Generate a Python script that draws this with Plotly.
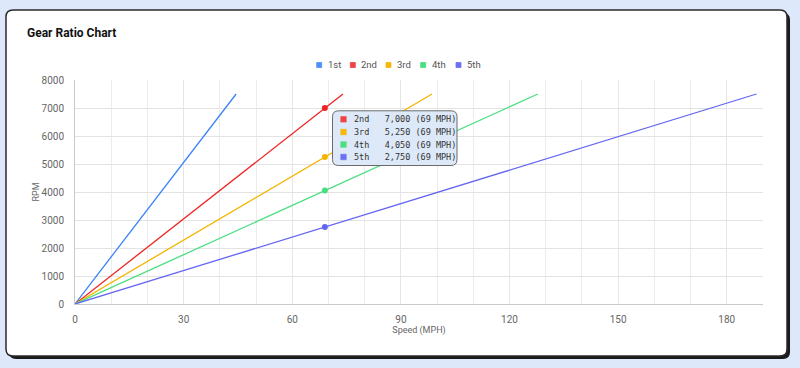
import plotly.graph_objects as go

# ---------------- data ----------------
gears = ["1st", "2nd", "3rd", "4th", "5th"]
line_colors = ["#3b82f6", "#ee2424", "#f4b400", "#4ade80", "#6366f1"]
swatch_colors = ["#4f8ef7", "#ef4444", "#f5b70a", "#4ade80", "#6d70f3"]
redline_rpm = 7500
top_speed = [44.5, 74.0, 98.6, 127.8, 188.2]   # mph reached at redline per gear
hover_speed = 69
hover_gears = ["2nd", "3rd", "4th", "5th"]
hover_rpm = [7000, 5250, 4050, 2750]
x_ticks = [0, 30, 60, 90, 120, 150, 180]
y_ticks = [0, 1000, 2000, 3000, 4000, 5000, 6000, 7000, 8000]

# ---------------- geometry helpers ----------------
W, H = 800, 368
PL, PR, PT, PB = 75, 763, 80, 304  # plot area in px
SANS = "Roboto, Inter, sans-serif"


def px(x):
    return (x - PL) / (PR - PL)


def py(y):
    return (PB - y) / (PB - PT)


def rr_path(x0, y0, x1, y1, r):
    pts = [
        f"M{px(x0 + r)},{py(y0)}", f"L{px(x1 - r)},{py(y0)}",
        f"Q{px(x1)},{py(y0)} {px(x1)},{py(y0 + r)}", f"L{px(x1)},{py(y1 - r)}",
        f"Q{px(x1)},{py(y1)} {px(x1 - r)},{py(y1)}", f"L{px(x0 + r)},{py(y1)}",
        f"Q{px(x0)},{py(y1)} {px(x0)},{py(y1 - r)}", f"L{px(x0)},{py(y0 + r)}",
        f"Q{px(x0)},{py(y0)} {px(x0 + r)},{py(y0)}", "Z",
    ]
    return " ".join(pts)


fig = go.Figure()

for g, c, ts in zip(gears, line_colors, top_speed):
    fig.add_trace(go.Scatter(x=[0, ts], y=[0, redline_rpm], mode="lines", name=g,
                             line=dict(color=c, width=1.3), showlegend=False,
                             hoverinfo="skip"))

hover_cols = [line_colors[gears.index(g)] for g in hover_gears]
fig.add_trace(go.Scatter(x=[hover_speed] * len(hover_rpm), y=hover_rpm, mode="markers",
                         marker=dict(color=hover_cols, size=6), showlegend=False,
                         hoverinfo="skip"))

shapes = []
annotations = []

# card shadow + card
shapes.append(dict(type="path", xref="paper", yref="paper", layer="below",
                   path=rr_path(9, 13, 790, 359, 7), fillcolor="#1a1a1a",
                   line=dict(width=0)))
shapes.append(dict(type="path", xref="paper", yref="paper", layer="below",
                   path=rr_path(6, 10, 787, 356, 7), fillcolor="white",
                   line=dict(color="#2a2a2a", width=1.5)))

# title
annotations.append(dict(text="<b>Gear Ratio Chart</b>", xref="paper", yref="paper",
                        x=px(25), y=py(33), xanchor="left", yanchor="middle",
                        showarrow=False, font=dict(size=12, color="#111", family=SANS)))

# legend (custom)
leg_sq_x = [316.7, 350.3, 386.0, 420.7, 456.0]
for g, c, sx in zip(gears, swatch_colors, leg_sq_x):
    shapes.append(dict(type="rect", xref="paper", yref="paper",
                       x0=px(sx), x1=px(sx + 5), y0=py(62.5), y1=py(67.5),
                       fillcolor=c, line=dict(color=c, width=0.8)))
    annotations.append(dict(text=g, xref="paper", yref="paper", x=px(sx + 9), y=py(65),
                            xanchor="left", yanchor="middle", showarrow=False,
                            font=dict(size=9.5, color="#555", family=SANS)))

# tooltip
shapes.append(dict(type="path", xref="paper", yref="paper",
                   path=rr_path(332.5, 110.8, 457, 165.5, 6),
                   fillcolor="rgba(220,232,248,0.96)",
                   line=dict(color="#6b6b6b", width=1)))
row_y = [119.3, 132.0, 144.5, 157.0]
for g, v, c, ry in zip(hover_gears, hover_rpm,
                       [swatch_colors[gears.index(g)] for g in hover_gears], row_y):
    shapes.append(dict(type="rect", xref="paper", yref="paper",
                       x0=px(340.7), x1=px(346.3), y0=py(ry - 2.8), y1=py(ry + 2.8),
                       fillcolor=c, line=dict(color=c, width=0.5)))
    txt = f"{g}\u00a0\u00a0\u00a0{v:,}\u00a0({hover_speed}\u00a0MPH)"
    annotations.append(dict(text=txt, xref="paper", yref="paper", x=px(351.5), y=py(ry),
                            xanchor="left", yanchor="middle", showarrow=False,
                            font=dict(size=8.5, color="#333",
                                      family="DejaVu Sans Mono, monospace")))

axis_font = dict(size=10, color="#666", family=SANS)
title_font = dict(size=9, color="#666", family=SANS)

fig.update_layout(
    width=W, height=H,
    margin=dict(l=PL, r=W - PR, t=PT, b=H - PB),
    paper_bgcolor="#dde8fb", plot_bgcolor="white",
    showlegend=False,
    shapes=shapes, annotations=annotations,
    xaxis=dict(range=[0, 190], tickvals=x_ticks, ticktext=[str(t) for t in x_ticks],
               showgrid=True, gridcolor="#e6e6e6", gridwidth=1,
               minor=dict(dtick=10, tick0=0, showgrid=True, gridcolor="#ececec"),
               zeroline=False, showline=True, linecolor="#c9c9c9", linewidth=1,
               ticks="", ticklabelstandoff=6, tickfont=axis_font,
               title=dict(text="Speed (MPH)", font=title_font, standoff=0),
               fixedrange=True),
    yaxis=dict(range=[0, 8000], tickvals=y_ticks, ticktext=[str(t) for t in y_ticks],
               showgrid=True, gridcolor="#e3e3e3", gridwidth=1,
               zeroline=False, showline=True, linecolor="#c9c9c9", linewidth=1,
               ticks="", ticklabelstandoff=8, tickfont=axis_font,
               title=dict(text="RPM", font=title_font, standoff=0),
               fixedrange=True),
)

fig.write_html("out.html", config={"displayModeBar": False},
               post_script="document.body.style.margin='0';"
                           "document.body.style.background='#dde8fb';"
                           "document.body.style.overflow='hidden';")
